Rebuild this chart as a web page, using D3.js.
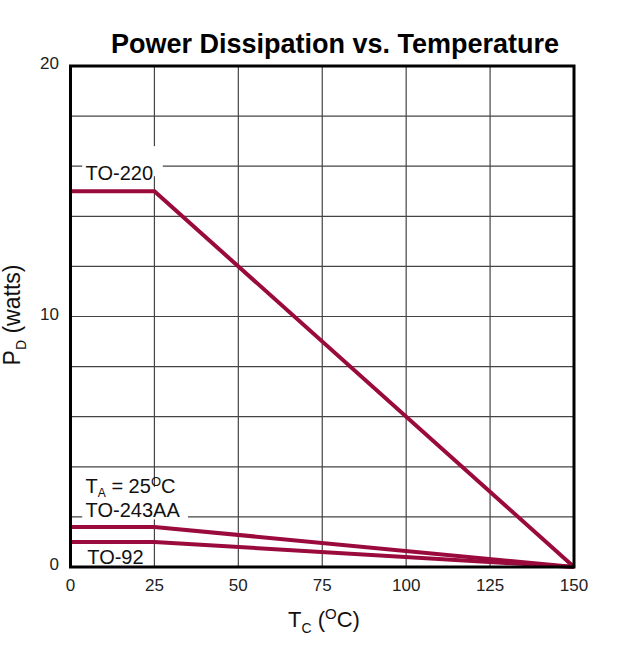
<!DOCTYPE html>
<html>
<head>
<meta charset="utf-8">
<script src="https://cdn.jsdelivr.net/npm/d3@7"></script>
<style>
  html, body { margin: 0; padding: 0; background: #fff; }
  text { font-family: "Liberation Sans", Arial, sans-serif; }
</style>
</head>
<body>
<svg id="chart" width="639" height="656"></svg>
<script>
// ---- data ----
const temps = [0, 25, 150];                 // case temperature (°C)
const seriesNames = ["TO-220", "TO-243AA", "TO-92"];
const to220 = [15, 15, 0];
const to243aa = [1.6, 1.6, 0];
const to92 = [1.0, 1.0, 0];
const xTicks = [0, 25, 50, 75, 100, 125, 150];
const yTickLabels = [0, 10, 20];
const yGridValues = [2, 4, 6, 8, 10, 12, 14, 16, 18];
const titleText = "Power Dissipation vs. Temperature";

const svg = d3.select("#chart");
const x = d3.scaleLinear().domain([0, 150]).range([70.5, 574]);
const y = d3.scaleLinear().domain([0, 20]).range([567, 66]);
const lineColor = "#9a0a3c";

// grid
svg.append("g").selectAll("line.v").data(xTicks.slice(1, -1)).join("line")
  .attr("x1", d => x(d)).attr("x2", d => x(d))
  .attr("y1", y(0)).attr("y2", y(20))
  .attr("stroke", "#444").attr("stroke-width", 1.2);
svg.append("g").selectAll("line.h").data(yGridValues).join("line")
  .attr("x1", x(0)).attr("x2", x(150))
  .attr("y1", d => y(d)).attr("y2", d => y(d))
  .attr("stroke", "#444").attr("stroke-width", 1.2);

// label backgrounds (cover gridlines)
function labelBox(x0, x1, yv0, yv1) {
  svg.append("rect").attr("x", x0).attr("y", y(yv1)).attr("width", x1 - x0)
    .attr("height", y(yv0) - y(yv1)).attr("fill", "#fff");
}
labelBox(x(3.5), x(27.5), 15.6, 16.8);
labelBox(x(3.5), x(35), 1.9, 3.2);

// series lines
const series = [to220, to243aa, to92];
const line = d3.line().x((d, i) => x(temps[i])).y(d => y(d));
svg.append("g").selectAll("path").data(series).join("path")
  .attr("d", d => line(d))
  .attr("fill", "none").attr("stroke", lineColor)
  .attr("stroke-width", 4).attr("stroke-linejoin", "miter");

// frame
svg.append("rect").attr("x", x(0)).attr("y", y(20))
  .attr("width", x(150) - x(0)).attr("height", y(0) - y(20))
  .attr("fill", "none").attr("stroke", "#000").attr("stroke-width", 3);

// series labels
svg.append("text").attr("x", x(4.5)).attr("y", 180).attr("font-size", 20)
  .attr("fill", "#111").text(seriesNames[0]);
const ta = svg.append("text").attr("x", x(4.5)).attr("y", 493).attr("font-size", 20).attr("fill", "#111");
ta.append("tspan").text("T");
ta.append("tspan").attr("font-size", 12).attr("dy", 4).text("A");
ta.append("tspan").attr("dy", -4).text(" = 25");
ta.append("tspan").attr("font-size", 13).attr("dy", -7).text("O");
ta.append("tspan").attr("dy", 7).text("C");
svg.append("text").attr("x", x(4.5)).attr("y", 517).attr("font-size", 20)
  .attr("fill", "#111").text(seriesNames[1]);
svg.append("text").attr("x", x(5)).attr("y", 564).attr("font-size", 20)
  .attr("fill", "#111").text(seriesNames[2]);

// x tick labels
svg.append("g").selectAll("text").data(xTicks).join("text")
  .attr("x", d => x(d)).attr("y", 591).attr("text-anchor", "middle")
  .attr("font-size", 17).attr("fill", "#222").text(d => d);

// y tick labels
svg.append("g").selectAll("text").data(yTickLabels).join("text")
  .attr("x", 59).attr("y", d => y(d) + 3).attr("text-anchor", "end")
  .attr("font-size", 17).attr("fill", "#222").text(d => d);

// title
svg.append("text").attr("x", 335).attr("y", 53).attr("text-anchor", "middle")
  .attr("font-size", 27).attr("font-weight", "bold").attr("fill", "#000").text(titleText);

// x axis label
const xl = svg.append("text").attr("x", 324).attr("y", 627).attr("text-anchor", "middle")
  .attr("font-size", 22).attr("fill", "#111");
xl.append("tspan").text("T");
xl.append("tspan").attr("font-size", 14).attr("dy", 6).text("C");
xl.append("tspan").attr("dy", -6).text(" (");
xl.append("tspan").attr("font-size", 15).attr("dy", -8).text("O");
xl.append("tspan").attr("dy", 8).text("C)");

// y axis label
const yl = svg.append("text").attr("transform", "translate(20,315) rotate(-90)")
  .attr("text-anchor", "middle").attr("font-size", 23).attr("fill", "#111");
yl.append("tspan").text("P");
yl.append("tspan").attr("font-size", 14).attr("dy", 6).text("D");
yl.append("tspan").attr("dy", -6).text(" (watts)");
</script>
</body>
</html>
